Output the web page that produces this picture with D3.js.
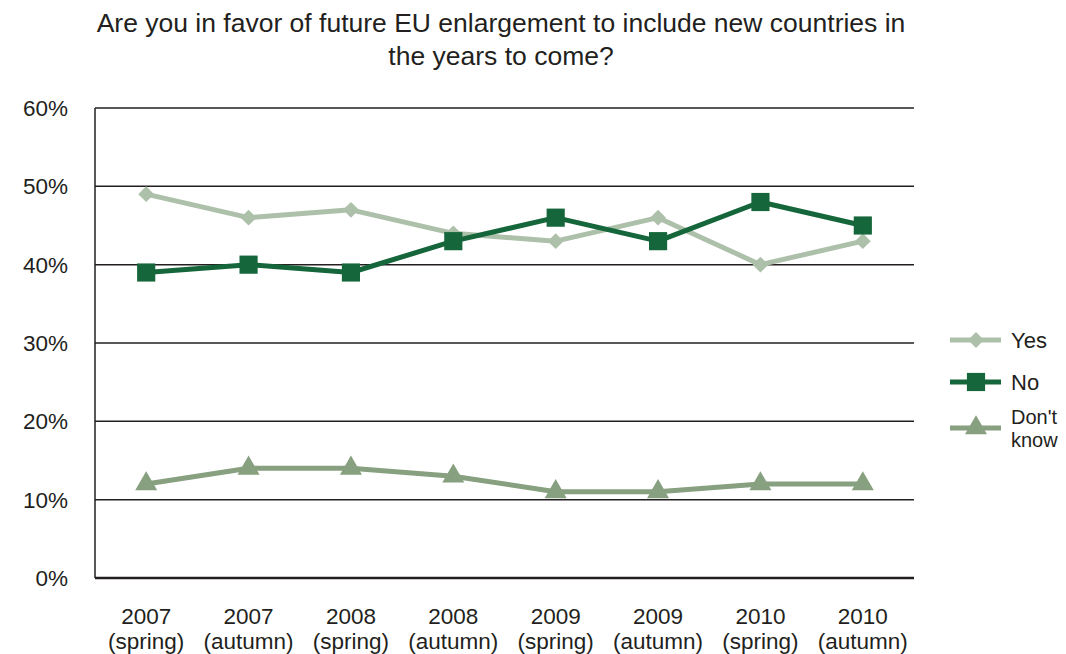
<!DOCTYPE html>
<html><head><meta charset="utf-8">
<script src="https://cdn.jsdelivr.net/npm/d3@7"></script>
<style>body{margin:0;background:#fff}text{font-family:"Liberation Sans",Arial,sans-serif;fill:#231f20}</style>
</head><body>
<svg id="c" width="1066" height="654"></svg>
<script>
const categories = [["2007","(spring)"],["2007","(autumn)"],["2008","(spring)"],["2008","(autumn)"],["2009","(spring)"],["2009","(autumn)"],["2010","(spring)"],["2010","(autumn)"]];
const yesValues = [49,46,47,44,43,46,40,43];
const noValues = [39,40,39,43,46,43,48,45];
const dkValues = [12,14,14,13,11,11,12,12];
const yTicks = [0,10,20,30,40,50,60];
const seriesNames = ["Yes","No","Don't know"];

const svg = d3.select("#c");
const x = d3.scaleBand().domain(d3.range(categories.length)).range([95,914]);
const y = d3.scaleLinear().domain([0,60]).range([578,108]);

svg.append("text").attr("x",501).attr("y",32).attr("text-anchor","middle").attr("font-size",26.5).text("Are you in favor of future EU enlargement to include new countries in");
svg.append("text").attr("x",501).attr("y",65).attr("text-anchor","middle").attr("font-size",26.5).text("the years to come?");

// grid
svg.append("g").selectAll("line").data(yTicks).join("line")
  .attr("x1",95).attr("x2",914).attr("y1",d=>y(d)).attr("y2",d=>y(d))
  .attr("stroke","#231f20").attr("stroke-width",d=>d===0?2.5:1.5);
svg.append("line").attr("x1",95).attr("x2",95).attr("y1",y(60)).attr("y2",y(0)).attr("stroke","#231f20").attr("stroke-width",1.5);
svg.append("g").selectAll("text").data(yTicks).join("text")
  .attr("x",68).attr("y",d=>y(d)+8).attr("text-anchor","end").attr("font-size",22.5).text(d=>d+"%");
const xl = svg.append("g").selectAll("text").data(categories).join("text")
  .attr("x",(d,i)=>x(i)+x.bandwidth()/2).attr("text-anchor","middle").attr("font-size",22.5);
xl.append("tspan").attr("x",(d,i)=>x(i)+x.bandwidth()/2).attr("y",624).text(d=>d[0]);
xl.append("tspan").attr("x",(d,i)=>x(i)+x.bandwidth()/2).attr("y",649).text(d=>d[1]);

const cx = i => x(i)+x.bandwidth()/2;
const series = [
  {name:"Yes", values:yesValues, color:"#adc0aa", sym:d3.symbolDiamond2, size:160},
  {name:"No", values:noValues, color:"#15663a", sym:d3.symbolSquare, size:330},
  {name:"Don't know", values:dkValues, color:"#87a07f", sym:d3.symbolTriangle, size:210}
];
const line = d3.line().x((d,i)=>cx(i)).y(d=>y(d));
series.forEach(s=>{
  svg.append("path").attr("d",line(s.values)).attr("fill","none").attr("stroke",s.color).attr("stroke-width",5).attr("stroke-linejoin","round");
  svg.append("g").selectAll("path").data(s.values).join("path")
    .attr("transform",(d,i)=>`translate(${cx(i)},${y(d)})`)
    .attr("d",d3.symbol().type(s.sym).size(s.size)).attr("fill",s.color);
});

// legend
const ly = [340,382,428];
series.forEach((s,k)=>{
  svg.append("line").attr("x1",950).attr("x2",1001).attr("y1",ly[k]).attr("y2",ly[k]).attr("stroke",s.color).attr("stroke-width",5);
  svg.append("path").attr("transform",`translate(976,${ly[k]})`).attr("d",d3.symbol().type(s.sym).size(s.size)).attr("fill",s.color);
});
svg.append("text").attr("x",1011).attr("y",348).attr("font-size",22).text(seriesNames[0]);
svg.append("text").attr("x",1011).attr("y",390).attr("font-size",22).text(seriesNames[1]);
svg.append("text").attr("x",1011).attr("y",424).attr("font-size",20).text("Don't");
svg.append("text").attr("x",1011).attr("y",447).attr("font-size",20).text("know");
</script></body></html>
